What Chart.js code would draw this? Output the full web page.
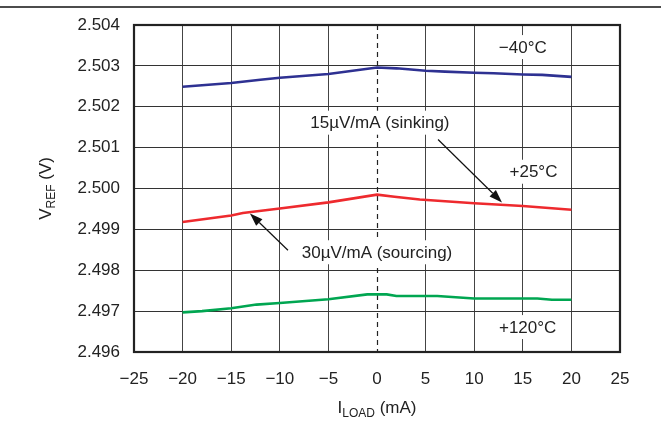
<!DOCTYPE html>
<html>
<head>
<meta charset="utf-8">
<script src="https://cdn.jsdelivr.net/npm/chart.js@4.4.0/dist/chart.umd.min.js"></script>
<style>
html,body{margin:0;padding:0;background:#fff;}
#wrap{width:661px;height:423px;position:relative;}
</style>
</head>
<body>
<div id="wrap"><canvas id="c" width="661" height="423"></canvas></div>
<script>
// ---- data ----
const xTickValues = [-25, -20, -15, -10, -5, 0, 5, 10, 15, 20, 25];
const yTickValues = [2.496, 2.497, 2.498, 2.499, 2.500, 2.501, 2.502, 2.503, 2.504];

const coldX = [-20, -15, -12, -10, -5, 0, 2, 5, 7, 10, 12, 15, 17, 20];
const coldY = [2.50249, 2.50258, 2.50266, 2.50271, 2.50280, 2.50296, 2.50294, 2.50288, 2.50286, 2.50283, 2.50282, 2.50279, 2.50278, 2.50273];

const roomX = [-20, -15, -13.8, -10, -5, 0, 1.8, 4.4, 10, 15, 20];
const roomY = [2.49918, 2.49934, 2.49940, 2.49951, 2.49966, 2.49985, 2.49980, 2.49973, 2.49964, 2.49957, 2.49948];

const hotX = [-20, -18, -15, -12.4, -10, -5, -1, 0, 1, 2, 5, 6.2, 10, 16.5, 18, 20];
const hotY = [2.49697, 2.49700, 2.49707, 2.49716, 2.49720, 2.49729, 2.49741, 2.49741, 2.49741, 2.49737, 2.49737, 2.49737, 2.49731, 2.49731, 2.49728, 2.49728];

// annotation texts and anchor points (data units)
const labelTexts = ['\u221240\u00B0C', '+25\u00B0C', '+120\u00B0C', '15\u00B5V/mA (sinking)', '30\u00B5V/mA (sourcing)'];
const labelX = [15, 16.1, 15.5, 0.3, 0];
const labelY = [2.50346, 2.50041, 2.49661, 2.50161, 2.49844];
// arrows: from (x0,y0) to arrowhead (x1,y1)
const arrowX0 = [6.28, -9.16];
const arrowY0 = [2.50120, 2.49849];
const arrowX1 = [12.86, -13.07];
const arrowY1 = [2.49966, 2.49939];

const toPts = (xs, ys) => xs.map((x, i) => ({x: x, y: ys[i]}));

const FONT = '"Liberation Sans", Arial, Helvetica, sans-serif';
const FS = 17;

const decor = {
  id: 'decor',
  beforeDatasetsDraw(chart) {
    const ctx = chart.ctx, xs = chart.scales.x, ys = chart.scales.y, a = chart.chartArea;
    ctx.save();
    // dashed zero line
    ctx.strokeStyle = '#222';
    ctx.lineWidth = 1.2;
    ctx.setLineDash([5, 4]);
    const x0 = Math.round(xs.getPixelForValue(0)) + 0.5;
    ctx.beginPath(); ctx.moveTo(x0, a.top); ctx.lineTo(x0, a.bottom); ctx.stroke();
    ctx.setLineDash([]);
    // label boxes + text
    ctx.font = FS + 'px ' + FONT;
    ctx.textAlign = 'center';
    ctx.textBaseline = 'middle';
    labelTexts.forEach((t, i) => {
      const px = xs.getPixelForValue(labelX[i]);
      const py = ys.getPixelForValue(labelY[i]);
      const w = ctx.measureText(t).width;
      ctx.fillStyle = '#fff';
      ctx.fillRect(px - w / 2 - 3, py - 12, w + 6, 24);
      ctx.fillStyle = '#222';
      ctx.fillText(t, px, py + 1);
    });
    ctx.restore();
  },
  afterDatasetsDraw(chart) {
    const ctx = chart.ctx, xs = chart.scales.x, ys = chart.scales.y, a = chart.chartArea;
    ctx.save();
    // arrows
    ctx.strokeStyle = '#111';
    ctx.fillStyle = '#111';
    ctx.lineWidth = 1.2;
    arrowX0.forEach((_, i) => {
      const sx = xs.getPixelForValue(arrowX0[i]), sy = ys.getPixelForValue(arrowY0[i]);
      const ex = xs.getPixelForValue(arrowX1[i]), ey = ys.getPixelForValue(arrowY1[i]);
      const ang = Math.atan2(ey - sy, ex - sx);
      const L = 13, W = 4.5;
      const bx = ex - L * Math.cos(ang), by = ey - L * Math.sin(ang);
      ctx.beginPath(); ctx.moveTo(sx, sy); ctx.lineTo(bx, by); ctx.stroke();
      ctx.beginPath();
      ctx.moveTo(ex, ey);
      ctx.lineTo(bx + W * Math.sin(ang), by - W * Math.cos(ang));
      ctx.lineTo(bx - W * Math.sin(ang), by + W * Math.cos(ang));
      ctx.closePath(); ctx.fill();
    });
    // plot border
    ctx.strokeStyle = '#222';
    ctx.lineWidth = 2.2;
    ctx.strokeRect(a.left, a.top, a.right - a.left, a.bottom - a.top);
    ctx.restore();
  },
  afterDraw(chart) {
    const ctx = chart.ctx, a = chart.chartArea;
    ctx.save();
    // top rule
    ctx.strokeStyle = '#111';
    ctx.lineWidth = 1.6;
    ctx.beginPath(); ctx.moveTo(0, 7); ctx.lineTo(chart.width, 7); ctx.stroke();
    ctx.fillStyle = '#222';
    ctx.textBaseline = 'alphabetic';
    // x title: I_LOAD (mA)
    {
      const parts = [['I', FS, 0], ['LOAD', 12, 4], [' (mA)', FS, 0]];
      let total = 0;
      parts.forEach(p => { ctx.font = p[1] + 'px ' + FONT; total += ctx.measureText(p[0]).width; });
      let x = (a.left + a.right) / 2 - total / 2;
      const y = 413;
      ctx.textAlign = 'left';
      parts.forEach(p => { ctx.font = p[1] + 'px ' + FONT; ctx.fillText(p[0], x, y + p[2]); x += ctx.measureText(p[0]).width; });
    }
    // y title: V_REF (V)
    {
      ctx.translate(51, (a.top + a.bottom) / 2);
      ctx.rotate(-Math.PI / 2);
      const parts = [['V', FS, 0], ['REF', 12, 4], [' (V)', FS, 0]];
      let total = 0;
      parts.forEach(p => { ctx.font = p[1] + 'px ' + FONT; total += ctx.measureText(p[0]).width; });
      let x = -total / 2;
      ctx.textAlign = 'left';
      parts.forEach(p => { ctx.font = p[1] + 'px ' + FONT; ctx.fillText(p[0], x, p[2]); x += ctx.measureText(p[0]).width; });
    }
    ctx.restore();
  }
};

new Chart(document.getElementById('c'), {
  type: 'line',
  data: {
    datasets: [
      {label: '-40C', data: toPts(coldX, coldY), borderColor: '#2E3192', borderWidth: 2.6, pointRadius: 0, tension: 0},
      {label: '+25C', data: toPts(roomX, roomY), borderColor: '#EE2A2E', borderWidth: 2.6, pointRadius: 0, tension: 0},
      {label: '+120C', data: toPts(hotX, hotY), borderColor: '#00A651', borderWidth: 2.6, pointRadius: 0, tension: 0}
    ]
  },
  options: {
    responsive: false,
    animation: false,
    devicePixelRatio: 1,
    layout: {padding: {left: 0, right: 41, top: 25, bottom: 0}},
    plugins: {legend: {display: false}, tooltip: {enabled: false}},
    scales: {
      x: {
        type: 'linear', min: -25, max: 25,
        afterBuildTicks: s => { s.ticks = xTickValues.map(v => ({value: v})); },
        afterFit: s => { s.height = 71; },
        border: {display: false},
        grid: {
          drawTicks: false,
          color: c => (c.tick && c.tick.value === 0) ? 'rgba(0,0,0,0)' : '#444',
          lineWidth: 1
        },
        ticks: {
          padding: 17,
          color: '#222',
          font: {family: FONT, size: FS},
          callback: v => String(v).replace('-', '\u2212')
        }
      },
      y: {
        type: 'linear', min: 2.496, max: 2.504,
        afterBuildTicks: s => { s.ticks = yTickValues.map(v => ({value: v})); },
        afterFit: s => { s.width = 134; },
        border: {display: false},
        grid: {drawTicks: false, color: '#333', lineWidth: 1},
        ticks: {
          padding: 14,
          color: '#222',
          font: {family: FONT, size: FS},
          callback: v => Number(v).toFixed(3)
        }
      }
    }
  },
  plugins: [decor]
});
</script>
</body>
</html>
